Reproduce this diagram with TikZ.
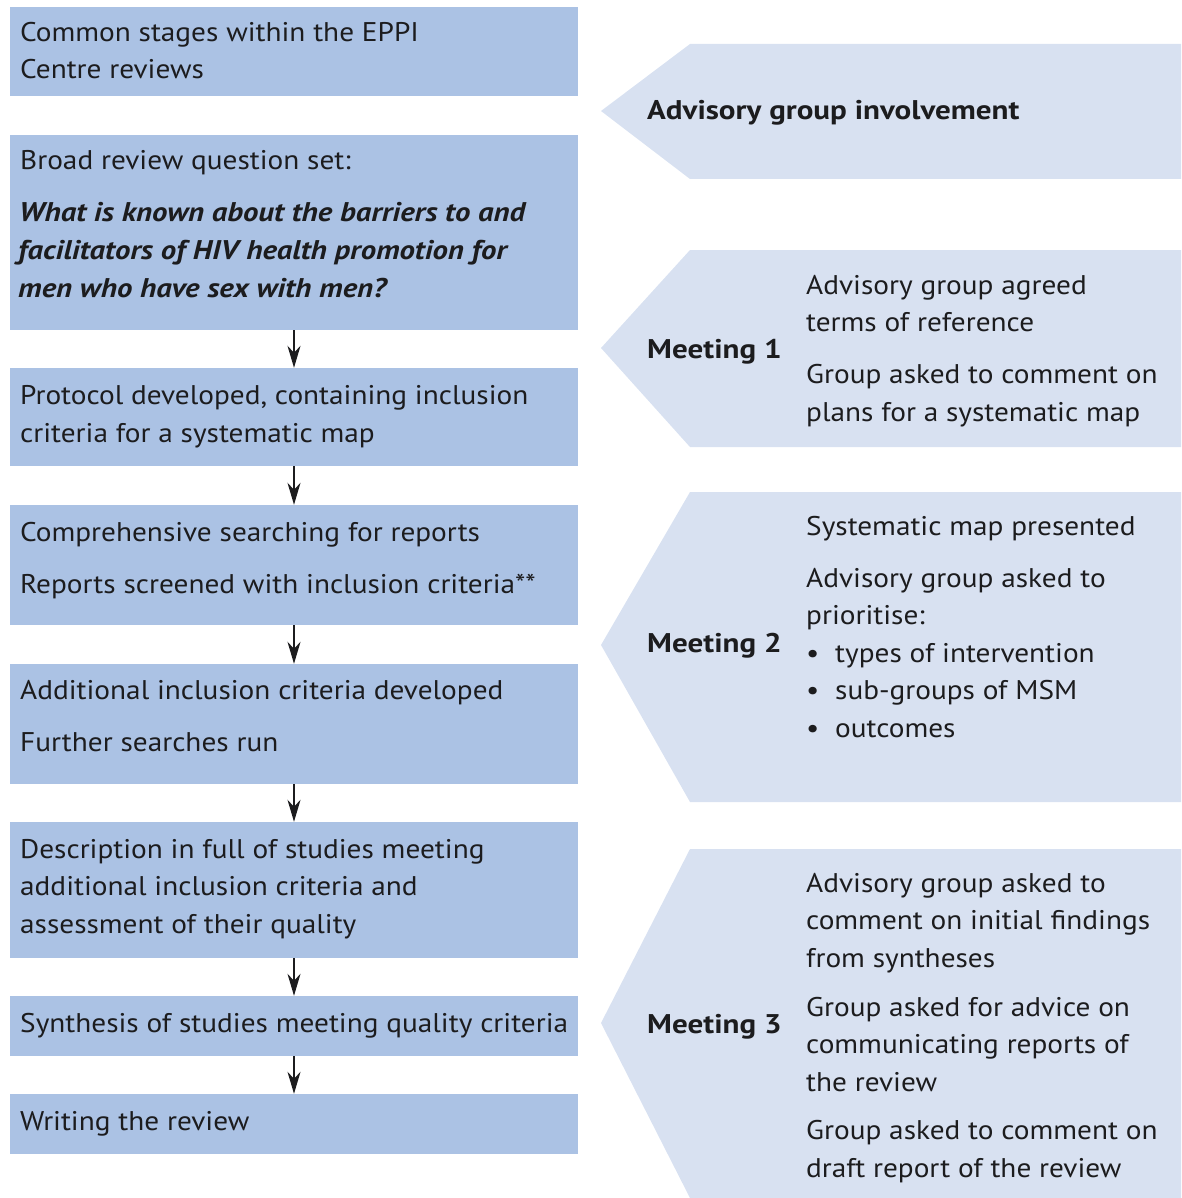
\documentclass[tikz,border=0pt]{standalone}
\usepackage{fontspec}
\setmainfont{PT Sans}[FakeStretch=1.085,
  BoldFeatures={FakeStretch=1.15},
  BoldItalicFeatures={FakeStretch=1.14}]
\usetikzlibrary{arrows.meta}
\definecolor{leftblue}{RGB}{171,194,228}
\definecolor{rightblue}{RGB}{216,225,241}
\definecolor{ink}{RGB}{28,28,30}
\newcommand\mainsz{\fontsize{27}{37}\selectfont}
\tikzset{
  lbox/.style={fill=leftblue, draw=none, minimum width=568pt, inner sep=0pt},
  lbl/.style={anchor=base west, inner sep=0pt, font=\mainsz, text=ink},
  blbl/.style={lbl, font=\mainsz\bfseries},
  arr/.style={draw=ink, line width=1.8pt, -{Stealth[length=22pt, width=13pt, inset=7pt]}},
  pent/.style={fill=rightblue, draw=none}
}
\begin{document}
\begin{tikzpicture}[x=1pt, y=-1pt]
\useasboundingbox (0,0) rectangle (1181,1198);
% right pentagons
\fill[pent] (690,44) -- (1181,44) -- (1181,179) -- (690,179) -- (601,111) -- cycle;
\fill[pent] (690,250) -- (1181,250) -- (1181,447) -- (690,447) -- (601,348) -- cycle;
\fill[pent] (690,492) -- (1181,492) -- (1181,802) -- (690,802) -- (601,645) -- cycle;
\fill[pent] (690,849) -- (1181,849) -- (1181,1198) -- (690,1198) -- (601,1023) -- cycle;
% left boxes
\node[lbox, minimum height=89pt]  (b1) at (294,51.5) {};
\node[lbox, minimum height=195pt] (b2) at (294,232.5) {};
\node[lbox, minimum height=98pt]  (b3) at (294,417) {};
\node[lbox, minimum height=120pt] (b4) at (294,565) {};
\node[lbox, minimum height=120pt] (b5) at (294,724) {};
\node[lbox, minimum height=136pt] (b6) at (294,890) {};
\node[lbox, minimum height=60pt]  (b7) at (294,1026) {};
\node[lbox, minimum height=60pt]  (b8) at (294,1124) {};
% arrows
\draw[arr] (b2.south) -- (b3.north);
\draw[arr] (b3.south) -- (b4.north);
\draw[arr] (b4.south) -- (b5.north);
\draw[arr] (b5.south) -- (b6.north);
\draw[arr] (b6.south) -- (b7.north);
\draw[arr] (b7.south) -- (b8.north);
% left texts
\node[lbl] (t1a) at (20,42) {Common stages within the EPPI};
\node[lbl] (t1b) at (20,79) {Centre reviews};
\node[lbl] (t2a) at (20,170) {Broad review question set:};
\node[lbl, font=\mainsz\bfseries\itshape] (t2b) at (19,222) {What is known about the barriers to and};
\node[lbl, font=\mainsz\bfseries\itshape] (t2c) at (18,259) {facilitators of HIV health promotion for};
\node[lbl, font=\mainsz\bfseries\itshape] (t2d) at (18,297) {men who have sex with men?};
\node[lbl] (t3a) at (20,404) {Protocol developed, containing inclusion};
\node[lbl] (t3b) at (20,442) {criteria for a systematic map};
\node[lbl] (t4a) at (20,541) {Comprehensive searching for reports};
\node[lbl] (t4b) at (20,593) {Reports screened with inclusion criteria**};
\node[lbl] (t5a) at (20,699) {Additional inclusion criteria developed};
\node[lbl] (t5b) at (20,751) {Further searches run};
\node[lbl] (t6a) at (20,858) {Description in full of studies meeting};
\node[lbl] (t6b) at (20,895) {additional inclusion criteria and};
\node[lbl] (t6c) at (20,933) {assessment of their quality};
\node[lbl] (t7a) at (20,1032) {Synthesis of studies meeting quality criteria};
\node[lbl] (t8a) at (20,1130) {Writing the review};
% right texts
\node[blbl] (ra) at (647,120) {Advisory group involvement};
\node[blbl] (m1) at (647,358) {Meeting 1};
\node[lbl] (m1a) at (806,294) {Advisory group agreed};
\node[lbl] (m1b) at (806,331) {terms of reference};
\node[lbl] (m1c) at (806,383) {Group asked to comment on};
\node[lbl] (m1d) at (806,421) {plans for a systematic map};
\node[blbl] (m2) at (647,652) {Meeting 2};
\node[lbl] (m2a) at (806,535) {Systematic map presented};
\node[lbl] (m2b) at (806,587) {Advisory group asked to};
\node[lbl] (m2c) at (806,624) {prioritise:};
\node[lbl] (m2d0) at (806,662) {\textbullet};
\node[lbl] (m2d) at (835,662) {types of intervention};
\node[lbl] (m2e0) at (806,699) {\textbullet};
\node[lbl] (m2e) at (835,699) {sub-groups of MSM};
\node[lbl] (m2f0) at (806,737) {\textbullet};
\node[lbl] (m2f) at (835,737) {outcomes};
\node[blbl] (m3) at (647,1033) {Meeting 3};
\node[lbl] (m3a) at (806,892) {Advisory group asked to};
\node[lbl] (m3b) at (806,929) {comment on initial findings};
\node[lbl] (m3c) at (806,967) {from syntheses};
\node[lbl] (m3d) at (806,1016) {Group asked for advice on};
\node[lbl] (m3e) at (806,1053) {communicating reports of};
\node[lbl] (m3f) at (806,1091) {the review};
\node[lbl] (m3g) at (806,1139) {Group asked to comment on};
\node[lbl] (m3h) at (806,1177) {draft report of the review};
\end{tikzpicture}
\end{document}
